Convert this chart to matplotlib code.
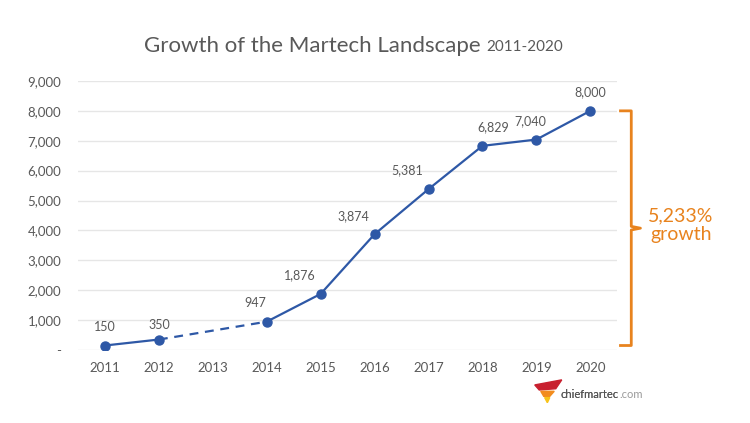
import numpy as np
import matplotlib.pyplot as plt
from matplotlib.ticker import FuncFormatter

years = ['2011', '2012', '2013', '2014', '2015', '2016', '2017', '2018', '2019', '2020']
counts = [150, 350, None, 947, 1876, 3874, 5381, 6829, 7040, 8000]
growth_text = '5,233%\ngrowth'

plt.rcParams['font.family'] = ['Lato', 'DejaVu Sans']

blue = '#2E58A6'
orange = '#E8831E'
gray = '#595959'

fig = plt.figure(figsize=(7.5, 4.23), dpi=100)
ax = fig.add_axes([0.104, 0.1726, 0.719, 0.636])

xs = np.arange(len(years))
known = [(i, v) for i, v in zip(xs, counts) if v is not None]
kx = np.array([k[0] for k in known])
ky = np.array([k[1] for k in known])

# solid parts, dashed bridge over the missing year
ax.plot(kx[:2], ky[:2], color=blue, lw=1.6)
ax.plot(kx[1:3], ky[1:3], color=blue, lw=1.6, ls=(0, (4, 3)))
ax.plot(kx[2:], ky[2:], color=blue, lw=1.6)
ax.plot(kx, ky, 'o', color=blue, ms=6.5, zorder=3)

# label offsets in points (x, y)
offs = [(0, 9), (0, 6), (-8, 9), (-15, 9), (-15, 9), (-15, 9), (8, 9), (-4, 9), (0, 9)]
for (i, v), (dx, dy) in zip(known, offs):
    ax.annotate(f'{v:,}', (i, v), xytext=(dx, dy), textcoords='offset points',
                ha='center', va='bottom', fontsize=9, color=gray)

ax.set_xlim(-0.5, len(years) - 0.5)
ax.set_ylim(0, 9000)
ax.set_xticks(xs)
ax.set_xticklabels(years)
ax.set_yticks(np.arange(0, 9001, 1000))
ax.yaxis.set_major_formatter(FuncFormatter(lambda v, p: '-' if v == 0 else f'{int(v):,}'))
ax.tick_params(length=0, colors=gray, labelsize=9.5)
ax.tick_params(axis='y', pad=12)
ax.tick_params(axis='x', pad=9)
ax.grid(axis='y', color='#E6E6E6', lw=1)
ax.set_axisbelow(True)
for s in ax.spines.values():
    s.set_visible(False)

# bracket
top, bot = counts[-1], 150
xb, xt, xm = 9.76, 9.56, 9.93
mid = (top + bot) / 2
ax.plot([xt, xb, xb, xm, xb, xb, xt], [top, top, mid + 60, mid, mid - 60, bot, bot],
        color=orange, lw=2, clip_on=False, solid_joinstyle='round')
ax.text(10.68, mid + 100, growth_text, ha='center', va='center', fontsize=14,
        color=orange, linespacing=1.15)

fig.text(0.641, 0.892, 'Growth of the Martech Landscape', ha='right', va='center',
         fontsize=16, color=gray)
fig.text(0.648, 0.889, '2011-2020', ha='left', va='center', fontsize=11, color=gray)

# logo
lx = fig.add_axes([0.711, 0.045, 0.04, 0.06])
lx.set_xlim(0, 1); lx.set_ylim(0, 1); lx.axis('off')
lx.fill([0.05, 0.95, 0.75, 0.2], [0.75, 0.95, 0.6, 0.55], color='#C8202F')
lx.fill([0.25, 0.7, 0.55, 0.35], [0.5, 0.5, 0.3, 0.3], color='#F28C1E')
lx.fill([0.38, 0.55, 0.47], [0.25, 0.25, 0.05], color='#F7C31A')
t = fig.text(0.747, 0.068, 'chiefmartec', ha='left', va='center', fontsize=8, color='#555555')
fig.add_artist(t)
ax.annotate('.com', xy=(1, 0.5), xycoords=t, xytext=(1, 0), textcoords='offset points',
            ha='left', va='center', fontsize=8, color='#9A9A9A', annotation_clip=False)

fig.savefig('out.png', dpi=100)
